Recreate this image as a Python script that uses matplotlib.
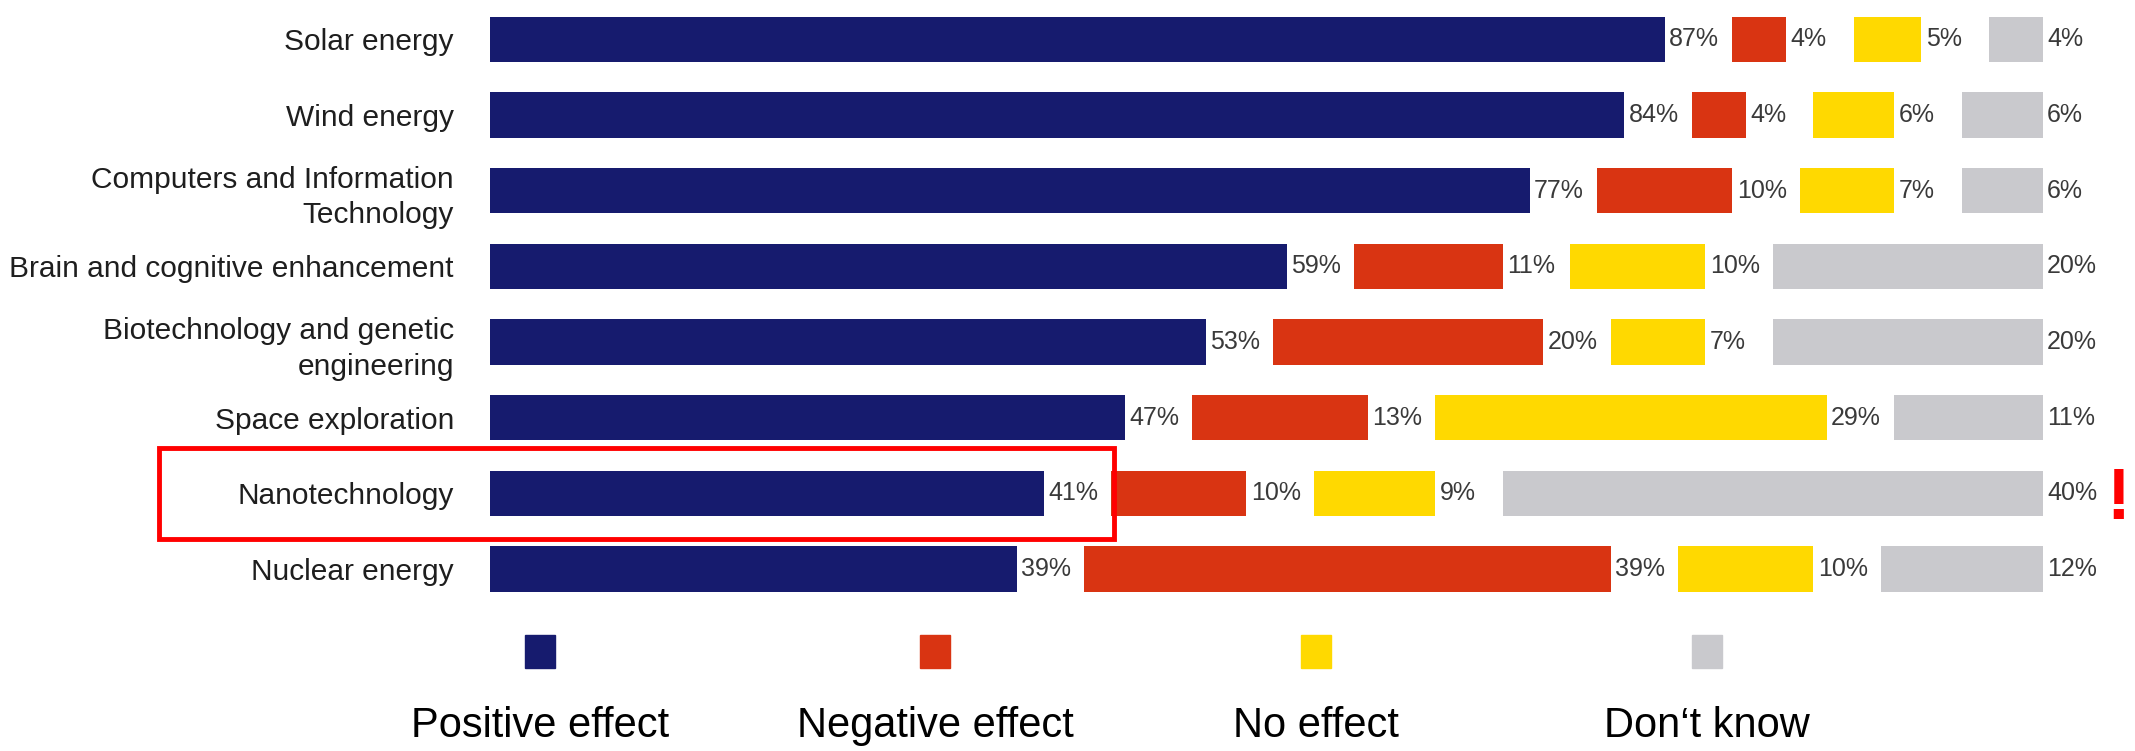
"""Attitudes towards technologies: share expecting a positive / negative / no
effect, split into separated segments with the value written after each one."""

import matplotlib
matplotlib.use("Agg")
import matplotlib.pyplot as plt  # noqa: E402
from matplotlib.patches import Rectangle  # noqa: E402

plt.rcParams["font.family"] = ["Liberation Sans", "DejaVu Sans"]

CATEGORIES = [
    "Solar energy",
    "Wind energy",
    "Computers and Information\nTechnology",
    "Brain and cognitive enhancement",
    "Biotechnology and genetic\nengineering",
    "Space exploration",
    "Nanotechnology",
    "Nuclear energy",
]
POSITIVE = [87, 84, 77, 59, 53, 47, 41, 39]
NEGATIVE = [4, 4, 10, 11, 20, 13, 10, 39]
NO_EFFECT = [5, 6, 7, 10, 7, 29, 9, 10]
DONT_KNOW = [4, 6, 6, 20, 20, 11, 40, 12]
LEGEND = ["Positive effect", "Negative effect", "No effect", "Don\u2018t know"]

COLORS = ["#161b6e", "#d93412", "#ffd900", "#c9c9cd"]
GAP = 5  # room left after each segment for its value label


def main() -> None:
    fig = plt.figure(figsize=(21.35, 7.51), dpi=100)
    ax = fig.add_axes([490 / 2135, 0.192, 1620 / 2135, 0.806])

    series = [POSITIVE, NEGATIVE, NO_EFFECT, DONT_KNOW]
    ys = list(range(len(CATEGORIES)))
    offsets = [0.0] * len(CATEGORIES)
    for k, (vals, color) in enumerate(zip(series, COLORS)):
        lefts = [off + k * GAP for off in offsets]
        ax.barh(ys, vals, left=lefts, height=0.6, color=color, linewidth=0)
        for y, left, v in zip(ys, lefts, vals):
            ax.text(left + v + 0.35, y, f"{v}%", va="center", ha="left",
                    fontsize=18, color="#3a3a3a")
        offsets = [off + v for off, v in zip(offsets, vals)]

    ax.set_xlim(0, 120)
    ax.set_ylim(len(CATEGORIES) - 0.5, -0.5)
    ax.set_yticks(ys)
    ax.set_yticklabels(CATEGORIES, fontsize=21.5, color="#1e1e1e",
                       linespacing=1.35)
    ax.tick_params(axis="y", length=0, pad=26)
    ax.set_xticks([])
    for side in ax.spines.values():
        side.set_visible(False)

    # legend: small swatch with its caption underneath
    centers = [540, 935, 1316, 1707]
    for cx, color, label in zip(centers, COLORS, LEGEND):
        fig.patches.append(Rectangle(((cx - 15) / 2135, 1 - 668 / 751),
                                     30 / 2135, 33 / 751, color=color,
                                     transform=fig.transFigure))
        fig.text(cx / 2135, 1 - 726 / 751, label, ha="center", va="center",
                 fontsize=30, color="black")

    # highlight box around the nanotechnology row
    fig.patches.append(Rectangle((159 / 2135, 1 - 539 / 751), 955 / 2135,
                                 91 / 751, fill=False, edgecolor="#ff0000",
                                 linewidth=3.5, transform=fig.transFigure))
    fig.text(2106 / 2135, 1 - 500 / 751, "!", ha="left", va="center",
             fontsize=52, fontweight="bold", color="#ff0000")

    fig.savefig("out.png", dpi=100, facecolor="white")
    plt.close(fig)


if __name__ == "__main__":
    main()
